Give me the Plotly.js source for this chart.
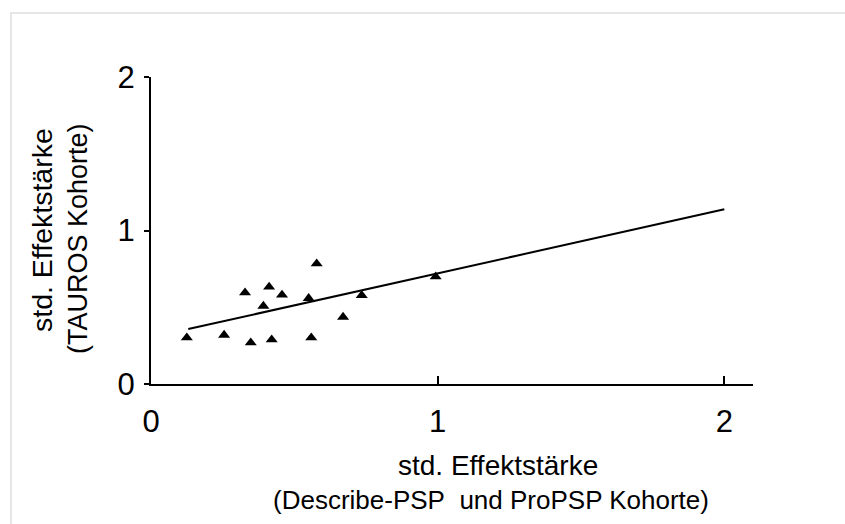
<!DOCTYPE html>
<html>
<head>
<meta charset="utf-8">
<script src="https://cdn.plot.ly/plotly-3.0.1.min.js"></script>
<style>
  html, body { margin: 0; padding: 0; background: #fff; }
  #wrap { position: relative; width: 845px; height: 524px; overflow: hidden; }
  #chart { position: absolute; left: 0; top: 0; width: 845px; height: 524px; }
  #frame { position: absolute; left: 10px; top: 12px; width: 900px; height: 600px;
           border: 2px solid #e6e6e6; pointer-events: none; box-sizing: border-box; }
</style>
</head>
<body>
<div id="wrap">
  <div id="chart"></div>
  <div id="frame"></div>
</div>
<script>
// Effect sizes: x = Describe-PSP und ProPSP, y = TAUROS
const effectX = [0.125, 0.255, 0.348, 0.421, 0.559, 0.328, 0.412, 0.457, 0.392, 0.550, 0.578, 0.670, 0.735, 0.993];
const effectY = [0.302, 0.319, 0.269, 0.289, 0.302, 0.595, 0.632, 0.580, 0.508, 0.558, 0.784, 0.436, 0.578, 0.699];
// Trend line end points
const trendX = [0.13, 2.0];
const trendY = [0.358, 1.138];
// Axis ticks
const tickVals = [0, 1, 2];
const tickText = ['0', '1', '2'];
const xTitle1 = 'std. Effektstärke';
const xTitle2 = '(Describe-PSP\u00a0 und ProPSP Kohorte)';
const yTitle1 = 'std. Effektstärke';
const yTitle2 = '(TAUROS Kohorte)';

const FONT = 'Liberation Sans, Arial, sans-serif';

const traces = [
  {
    x: trendX, y: trendY, type: 'scatter', mode: 'lines',
    line: { color: '#000', width: 2 }, hoverinfo: 'skip', showlegend: false
  },
  {
    x: effectX, y: effectY, type: 'scatter', mode: 'markers',
    marker: { symbol: 'triangle-up', size: 10.5, color: '#000' }, showlegend: false
  }
];

const L = 151, R = 92, T = 77, B = 140;
const PW = 845 - L - R, PH = 524 - T - B;
const px = v => (v - L) / PW;
const py = v => (524 - B - v) / PH;

const layout = {
  width: 845, height: 524,
  margin: { l: L, r: R, t: T, b: B, pad: 0 },
  paper_bgcolor: '#fff', plot_bgcolor: '#fff',
  font: { family: FONT, color: '#000' },
  showlegend: false,
  xaxis: {
    range: [0, 2.1], tickvals: tickVals, ticktext: tickText,
    showgrid: false, zeroline: false, showline: true, linecolor: '#000', linewidth: 2,
    ticks: 'inside', ticklen: 8, tickwidth: 2, tickcolor: '#000',
    tickfont: { family: FONT, size: 31, color: '#000' }, ticklabelstandoff: 9
  },
  yaxis: {
    range: [0, 2], tickvals: tickVals, ticktext: tickText,
    showgrid: false, zeroline: false, showline: true, linecolor: '#000', linewidth: 2,
    ticks: 'outside', ticklen: 5, tickwidth: 2, tickcolor: '#000',
    tickfont: { family: FONT, size: 31, color: '#000' }, ticklabelstandoff: 3
  },
  annotations: [
    { text: xTitle1, xref: 'paper', yref: 'paper', x: px(498), y: py(465), xanchor: 'center', yanchor: 'middle',
      showarrow: false, font: { family: FONT, size: 28, color: '#000' } },
    { text: xTitle2, xref: 'paper', yref: 'paper', x: px(491), y: py(500), xanchor: 'center', yanchor: 'middle',
      showarrow: false, font: { family: FONT, size: 26, color: '#000' } },
    { text: yTitle1, xref: 'paper', yref: 'paper', x: px(42), y: py(230), xanchor: 'center', yanchor: 'middle',
      textangle: -90, showarrow: false, font: { family: FONT, size: 28.5, color: '#000' } },
    { text: yTitle2, xref: 'paper', yref: 'paper', x: px(78), y: py(239), xanchor: 'center', yanchor: 'middle',
      textangle: -90, showarrow: false, font: { family: FONT, size: 27, color: '#000' } }
  ]
};

Plotly.newPlot('chart', traces, layout, { displayModeBar: false, staticPlot: true });
</script>
</body>
</html>
